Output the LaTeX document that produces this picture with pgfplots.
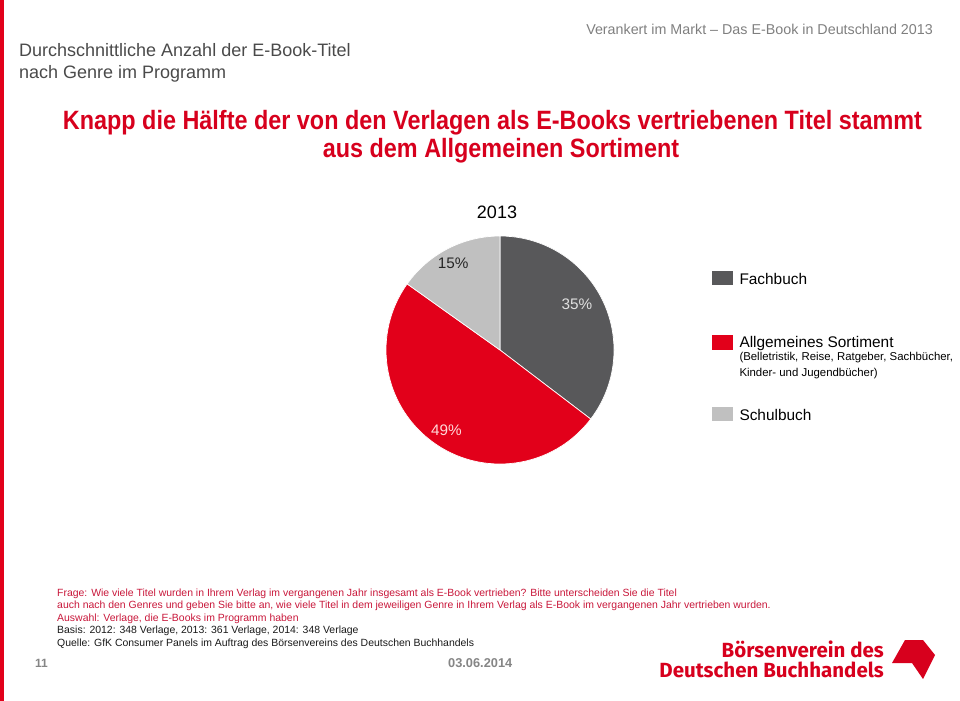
\documentclass[border=0pt]{standalone}
\usepackage{fontspec}
\setmainfont{Liberation Sans}
\newfontfamily\titlefont{Liberation Sans}[FakeStretch=0.883]
\newfontfamily\logofont{Fira Sans}
\usepackage{pgfplots}
\usepackage{pgfplotstable}
\pgfplotsset{compat=1.18}
\definecolor{bvred}{HTML}{E2001A}
\definecolor{titlered}{HTML}{D7001D}
\definecolor{noteRed}{HTML}{C8173A}
\definecolor{fachgray}{HTML}{58585A}
\definecolor{schulgray}{HTML}{C0C0C0}
\definecolor{headgray}{HTML}{4A4A4A}
\definecolor{toprgray}{HTML}{7F7F7F}
\definecolor{dategray}{HTML}{858585}

\pgfplotstableread{
genre share
Fachbuch 35
Allgemein 49
Schulbuch 15
}\piedata
\pgfplotstablegetelem{0}{share}\of\piedata\edef\sA{\pgfplotsretval}
\pgfplotstablegetelem{1}{share}\of\piedata\edef\sB{\pgfplotsretval}
\pgfplotstablegetelem{2}{share}\of\piedata\edef\sC{\pgfplotsretval}
\pgfmathsetmacro\total{\sA+\sB+\sC}
\pgfmathsetmacro\aA{90-(\sA/\total)*360}
\pgfmathsetmacro\aB{\aA-(\sB/\total)*360}
\pgfmathsetmacro\aC{\aB-(\sC/\total)*360}
\pgfmathsetmacro\xA{cos(\aA)}\pgfmathsetmacro\yA{sin(\aA)}
\pgfmathsetmacro\xB{cos(\aB)}\pgfmathsetmacro\yB{sin(\aB)}

\newcommand{\fs}[1]{\fontsize{#1bp}{#1bp}\selectfont}

\begin{document}
\begin{tikzpicture}[x=1bp,y=1bp]
\path[use as bounding box] (0,0) rectangle (960,-701);
\fill[bvred] (0,0) rectangle (3.5,-701);

% header
\node[anchor=base west, inner sep=0, text=headgray, font=\fs{18}] at (19,-56.5) {Durchschnittliche Anzahl der E-Book-Titel};
\node[anchor=base west, inner sep=0, text=headgray, font=\fs{18}] at (19,-79) {nach Genre im Programm};
\node[anchor=base east, inner sep=0, text=toprgray, font=\fs{14.3}] at (933,-34.4) {Verankert im Markt -- Das E-Book in Deutschland 2013};

% title
\node[anchor=base, inner sep=0, text=titlered, font=\titlefont\bfseries\fs{26.5}] at (492.5,-129.5) {Knapp die Hälfte der von den Verlagen als E-Books vertriebenen Titel stammt};
\node[anchor=base, inner sep=0, text=titlered, font=\titlefont\bfseries\fs{26.5}] at (501,-157.5) {aus dem Allgemeinen Sortiment};

\node[anchor=base, inner sep=0, font=\fs{18}] at (497,-218.5) {2013};

% pie
\begin{axis}[at={(500bp,-350bp)}, anchor=center, width=228bp, height=228bp,
  scale only axis, hide axis, xmin=-1, xmax=1, ymin=-1, ymax=1, clip=false]
\addplot[fill=fachgray, draw=white, line width=0.7pt] coordinates {(0,0) (0,1)}
  arc[start angle=90, end angle=\aA, radius=114bp] -- cycle;
\addplot[fill=bvred, draw=white, line width=0.7pt] coordinates {(0,0) (\xA,\yA)}
  arc[start angle=\aA, end angle=\aB, radius=114bp] -- cycle;
\addplot[fill=schulgray, draw=white, line width=0.7pt] coordinates {(0,0) (\xB,\yB)}
  arc[start angle=\aB, end angle=\aC, radius=114bp] -- cycle;
\node[font=\fs{15.3}, text=black!85] at (axis cs:-0.41,0.76) {15\%};
\node[font=\fs{15.3}, text=white!88!black] at (axis cs:0.675,0.40) {35\%};
\node[font=\fs{15.3}, text=white!85!red] at (axis cs:-0.47,-0.70) {49\%};
\end{axis}

% legend
\fill[fachgray] (711.7,-270.7) rectangle (732.7,-285.3);
\fill[bvred] (711.7,-335) rectangle (732.7,-349.7);
\fill[schulgray] (711.7,-406.7) rectangle (732.7,-421.3);
\node[anchor=base west, inner sep=0, font=\fs{15.4}] at (739.3,-284.8) {Fachbuch};
\node[anchor=base west, inner sep=0, font=\fs{15.4}] at (739.3,-347.2) {Allgemeines Sortiment};
\node[anchor=base west, inner sep=0, font=\fs{11.4}] at (739.3,-360.8) {(Belletristik, Reise, Ratgeber, Sachbücher,};
\node[anchor=base west, inner sep=0, font=\fs{11.4}] at (739.3,-376.1) {Kinder- und Jugendbücher)};
\node[anchor=base west, inner sep=0, font=\fs{15.4}] at (739.3,-420.2) {Schulbuch};

% footnote
\node[anchor=base west, inner sep=0, text=noteRed, font=\fs{10.45}] at (57,-596) {Frage: Wie viele Titel wurden in Ihrem Verlag im vergangenen Jahr insgesamt als E-Book vertrieben? Bitte unterscheiden Sie die Titel};
\node[anchor=base west, inner sep=0, text=noteRed, font=\fs{10.45}] at (57,-608.6) {auch nach den Genres und geben Sie bitte an, wie viele Titel in dem jeweiligen Genre in Ihrem Verlag als E-Book im vergangenen Jahr vertrieben wurden.};
\node[anchor=base west, inner sep=0, text=noteRed, font=\fs{10.45}] at (57,-621.2) {Auswahl: Verlage, die E-Books im Programm haben};
\node[anchor=base west, inner sep=0, text=black!90, font=\fs{10.45}] at (57,-633.8) {Basis: 2012: 348 Verlage, 2013: 361 Verlage, 2014: 348 Verlage};
\node[anchor=base west, inner sep=0, text=black!90, font=\fs{10.45}] at (57,-646.4) {Quelle: GfK Consumer Panels im Auftrag des Börsenvereins des Deutschen Buchhandels};

\node[anchor=base west, inner sep=0, text=dategray, font=\bfseries\fs{12}] at (35,-667.3) {11};
\node[anchor=base west, inner sep=0, text=dategray, font=\bfseries\fs{12.8}] at (448,-667.5) {03.06.2014};

% logo
\node[anchor=base east, inner sep=0, text=titlered, font=\logofont\bfseries\fs{20.5}] at (884,-657) {Börsenverein des};
\node[anchor=base east, inner sep=0, text=titlered, font=\logofont\bfseries\fs{20.5}] at (884,-677.5) {Deutschen Buchhandels};
\fill[titlered] (892,-663) -- (905,-640) -- (923,-640) -- (935,-655) -- (923,-679) -- (912,-663) -- cycle;
\end{tikzpicture}
\end{document}
